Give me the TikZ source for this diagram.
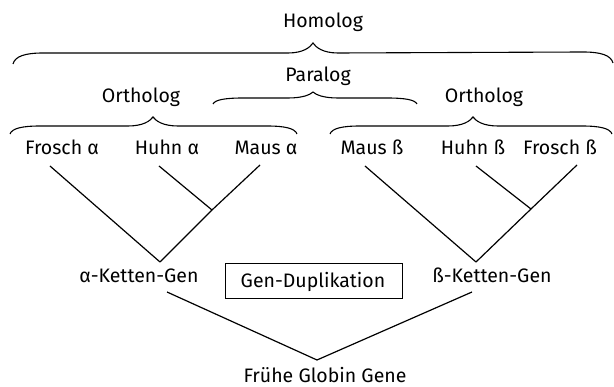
\documentclass[tikz,border=0pt]{standalone}
\usepackage{fontspec}
\setmainfont{Fira Sans}
\usetikzlibrary{calc}
\newcommand\mybrace[5]{%
  \draw[brc] (#1) .. controls +(2,-0.7*#4) and +(-18,0) .. ($(#1)+(30,-#4)$)
    -- ($(#2)+(-25,#5)$) .. controls +(15,0) and +(-3,0.45*#5) .. (#2)
    .. controls +(3,0.45*#5) and +(-15,0) .. ($(#2)+(25,#5)$)
    -- ($(#3)+(-30,-#4)$) .. controls +(18,0) and +(-2,-0.7*#4) .. (#3);}
\begin{document}
\begin{tikzpicture}[x=1pt,y=-1pt,
  lbl/.style={font=\fontsize{19.5}{22}\selectfont, inner sep=0pt, anchor=base},
  ln/.style={line width=1.2pt, black},
  brc/.style={line width=1.1pt, black},
  boxed/.style={draw, line width=0.9pt, minimum width=177pt, minimum height=35pt, inner sep=0pt}]
\useasboundingbox (0,0) rectangle (614,387);

% labels of braces
\node[lbl] (homolog) at (323,28) {Homolog};
\node[lbl] (paralog) at (318,82) {Paralog};
\node[lbl] (orthoL) at (141,103) {Ortholog};
\node[lbl] (orthoR) at (484,103) {Ortholog};

% brace end points and tips
\coordinate (homL) at (13,64);  \coordinate (homT) at (313,43);  \coordinate (homR) at (613,63);
\coordinate (parL) at (213,104); \coordinate (parT) at (313,92); \coordinate (parR) at (417,104);
\coordinate (orLL) at (10,134);  \coordinate (orLT) at (153,117); \coordinate (orLR) at (297,134);
\coordinate (orRL) at (330,134); \coordinate (orRT) at (473,117); \coordinate (orRR) at (612,134);

\mybrace{homL}{homT}{homR}{11}{10}
\mybrace{parL}{parT}{parR}{6}{6}
\mybrace{orLL}{orLT}{orLR}{8}{9}
\mybrace{orRL}{orRT}{orRR}{8}{9}

% leaves
\node[lbl] (fa) at (62,155) {Frosch α};
\node[lbl] (ha) at (167,155) {Huhn α};
\node[lbl] (ma) at (266,155) {Maus α};
\node[lbl] (mb) at (372,155) {Maus ß};
\node[lbl] (hb) at (473,155) {Huhn ß};
\node[lbl] (fb) at (560,155) {Frosch ß};

% branch starts below leaves
\coordinate (fa0) at (50,166);
\coordinate (ha0) at (159,166);
\coordinate (ma0) at (260,165);
\coordinate (mb0) at (365,166);
\coordinate (hb0) at (476,166);
\coordinate (fb0) at (577,165);

% junctions
\coordinate (ja) at (212,210);
\coordinate (ra) at (160,262);
\coordinate (jb) at (531,209);
\coordinate (rb) at (476,262);

\draw[ln] (fa0) -- (ra);
\draw[ln] (ma0) -- (ja) -- (ra);
\draw[ln] (ha0) -- (ja);
\draw[ln] (mb0) -- (rb);
\draw[ln] (fb0) -- (jb) -- (rb);
\draw[ln] (hb0) -- (jb);

% gene level
\node[lbl] (ak) at (139,283) {α-Ketten-Gen};
\node[lbl] (bk) at (492,283) {ß-Ketten-Gen};
\node[boxed] (dup) at (313.5,280.5) {};
\node[lbl] (duptxt) at (313,288) {Gen-Duplikation};

\coordinate (ak0) at (167,292);
\coordinate (bk0) at (472,292);
\coordinate (root) at (317,360);
\node[lbl] (fgg) at (325,383) {Frühe Globin Gene};

\draw[ln] (ak0) -- (root) -- (bk0);
\end{tikzpicture}
\end{document}
